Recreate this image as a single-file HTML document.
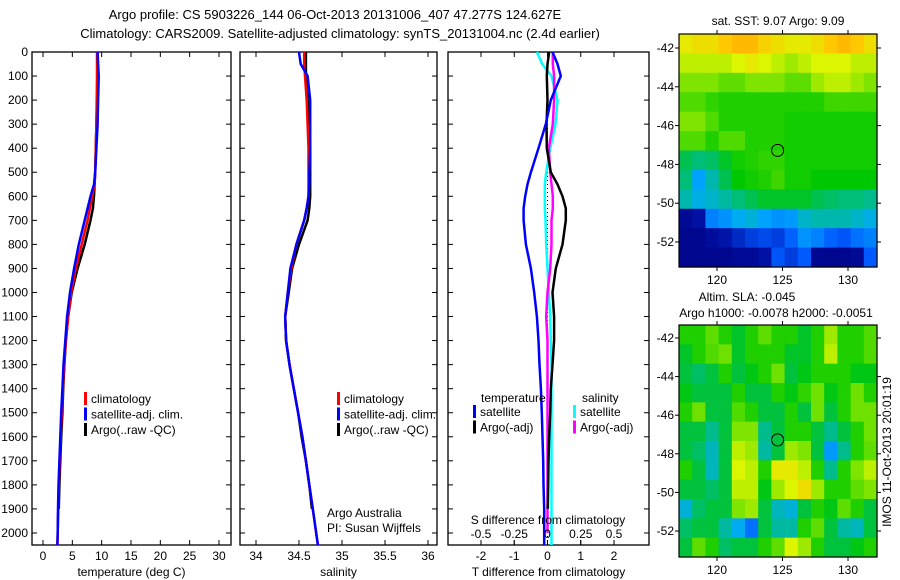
<!DOCTYPE html>
<html><head><meta charset="utf-8"><style>
body{margin:0;background:#fff}
svg{display:block;font-family:"Liberation Sans",sans-serif}
</style></head><body>
<svg id="fig" width="900" height="580" viewBox="0 0 900 580" xmlns="http://www.w3.org/2000/svg">
<rect width="900" height="580" fill="#fff"/>
<text x="335" y="19" font-size="13" text-anchor="middle">Argo profile: CS 5903226_144 06-Oct-2013 20131006_407 47.277S 124.627E</text>
<text x="340" y="38" font-size="13" text-anchor="middle">Climatology: CARS2009. Satellite-adjusted climatology: synTS_20131004.nc (2.4d earlier)</text>
<g id="g"></g>
</svg>
<script>
// ---- data ----
const depths = [0,50,100,200,300,400,500,550,600,650,700,800,900,1000,1100,1200,1300,1400,1500,1600,1700,1800,1900,2000,2050];
const tempClim = [9.2,9.2,9.2,9.15,9.1,9.0,8.9,8.8,8.4,8.0,7.6,6.6,5.6,4.8,4.3,3.9,3.6,3.4,3.2,3.0,2.85,2.7,2.6,2.5,2.45];
const tempSat  = [9.3,9.4,9.5,9.4,9.3,9.1,8.9,8.7,8.1,7.6,7.1,6.1,5.3,4.6,4.1,3.8,3.5,3.3,3.1,2.95,2.8,2.65,2.55,2.5,2.45];
const tempArgo = [9.25,9.3,9.3,9.2,9.1,9.0,8.9,8.8,8.7,8.5,8.1,7.1,5.9,4.9,4.3,3.9,3.65,3.45,3.3,3.1,2.95,2.8,2.7];
const salClim = [34.56,34.56,34.57,34.59,34.6,34.61,34.61,34.61,34.61,34.59,34.56,34.47,34.41,34.37,34.34,34.35,34.39,34.44,34.49,34.54,34.58,34.62,34.66,34.7,34.72];
const salSat  = [34.5,34.52,34.6,34.63,34.63,34.63,34.62,34.62,34.61,34.59,34.56,34.47,34.4,34.37,34.34,34.35,34.39,34.44,34.49,34.54,34.58,34.62,34.66,34.7,34.72];
const salArgo = [34.58,34.58,34.58,34.6,34.62,34.63,34.63,34.63,34.63,34.62,34.6,34.5,34.42,34.38,34.34,34.35,34.39,34.44,34.49,34.53,34.58,34.62,34.65];
const dTSat  = [0.15,0.3,0.4,0.1,-0.05,-0.27,-0.5,-0.6,-0.67,-0.72,-0.72,-0.65,-0.5,-0.4,-0.32,-0.27,-0.24,-0.2,-0.17,-0.15,-0.13,-0.12,-0.1,-0.1,-0.1];
const dTArgo = [0.05,0.0,-0.02,0.0,-0.03,-0.02,0.1,0.3,0.45,0.55,0.55,0.45,0.25,0.15,0.2,0.2,0.15,0.1,0.08,0.05,0.03,0.02,0.01];
const dSSat  = [-0.08,-0.04,0.03,0.075,0.06,0.02,-0.01,-0.02,-0.02,-0.02,-0.015,-0.01,0.0,0.01,0.02,0.025,0.03,0.03,0.03,0.03,0.03,0.03,0.03,0.03,0.03];
const dSArgo = [0.04,0.04,0.05,0.05,0.04,0.01,0.02,0.03,0.04,0.04,0.03,0.03,0.02,0.0,-0.01,0.0,0.0,0.0,0.0,0.0,0.0,0.0,0.0,0.0];
const depthTicks = [0,100,200,300,400,500,600,700,800,900,1000,1100,1200,1300,1400,1500,1600,1700,1800,1900,2000];
const tempTicks = [0,5,10,15,20,25,30];
const salTicks = [34,34.5,35,35.5,36];
const dTTicks = [-2,-1,0,1,2];
const dSTicks = [-0.5,-0.25,0,0.25,0.5];
const dSTickLabels = ["-0.5","-0.25","0","0.25","0.5"];
const lonTicks = [120,125,130];
const latTicks = [-42,-44,-46,-48,-50,-52];
const argoLon = 124.627, argoLat = -47.277;
const sstGrid = [
[.66,.68,.68,.72,.74,.74,.7,.68,.66,.66,.68,.72,.74,.72,.68],
[.62,.62,.62,.62,.64,.66,.64,.62,.6,.62,.64,.64,.64,.62,.62],
[.58,.58,.58,.56,.56,.58,.58,.58,.56,.56,.6,.62,.62,.6,.58],
[.55,.55,.53,.52,.52,.52,.52,.52,.52,.52,.52,.54,.54,.54,.54],
[.58,.58,.55,.52,.52,.52,.52,.52,.51,.51,.51,.51,.51,.51,.51],
[.55,.55,.52,.55,.55,.52,.52,.52,.51,.51,.51,.51,.51,.51,.51],
[.46,.44,.45,.48,.51,.52,.53,.53,.51,.51,.51,.51,.51,.51,.51],
[.44,.34,.41,.46,.5,.51,.52,.54,.51,.51,.5,.5,.5,.5,.5],
[.41,.37,.39,.42,.44,.46,.48,.48,.48,.48,.46,.45,.44,.44,.43],
[.06,.1,.3,.32,.36,.38,.34,.32,.33,.39,.41,.41,.41,.39,.37],
[.04,.04,.08,.12,.16,.2,.22,.2,.26,.32,.3,.26,.24,.28,.3],
[.04,.04,.04,.04,.06,.06,.1,.24,.2,.25,.05,.04,.04,.06,.25]];
const slaGrid = [
[.52,.52,.56,.52,.48,.52,.56,.52,.52,.48,.52,.6,.52,.52,.55],
[.48,.52,.55,.57,.48,.52,.52,.52,.48,.48,.52,.62,.52,.52,.55],
[.47,.45,.47,.52,.47,.49,.52,.57,.47,.49,.52,.52,.52,.49,.49],
[.49,.47,.47,.47,.52,.47,.47,.52,.49,.53,.57,.49,.52,.57,.52],
[.52,.57,.47,.47,.55,.52,.47,.47,.52,.47,.57,.47,.52,.57,.57],
[.47,.47,.43,.47,.58,.58,.43,.47,.52,.52,.47,.43,.47,.52,.57],
[.47,.45,.4,.47,.62,.6,.42,.47,.6,.58,.47,.33,.43,.52,.56],
[.52,.47,.4,.47,.64,.62,.52,.66,.66,.62,.52,.43,.52,.58,.62],
[.47,.47,.45,.47,.62,.62,.49,.6,.64,.68,.6,.52,.52,.56,.58],
[.38,.45,.47,.47,.58,.6,.47,.4,.38,.47,.52,.49,.56,.52,.47],
[.45,.47,.47,.42,.36,.28,.47,.42,.42,.52,.56,.47,.42,.4,.47],
[.47,.56,.52,.45,.47,.47,.52,.56,.64,.6,.52,.47,.47,.49,.52]];

// ---- drawing ----
const NS="http://www.w3.org/2000/svg";
const G=document.getElementById('g');
function mk(tag,attrs,parent){const e=document.createElementNS(NS,tag);for(const k in attrs)e.setAttribute(k,attrs[k]);(parent||G).appendChild(e);return e;}
function txt(s,x,y,anchor,size){const t=mk('text',{x:x,y:y,'font-size':size||12,'text-anchor':anchor||'start'});t.textContent=s;return t;}
const yTop=52,yBot=545,dMax=2050;
const yD=d=>yTop+d/dMax*(yBot-yTop);
function lin(d0,d1,p0,p1){return v=>p0+(v-d0)/(d1-d0)*(p1-p0);}

function panel(name,x0,x1,xs,ticks,labels,xlabel,showY){
  const f=mk('rect',{x:x0,y:yTop,width:x1-x0,height:yBot-yTop,fill:'none',stroke:'#000','stroke-width':1.3});
  
  
  depthTicks.forEach(d=>{
    mk('line',{x1:x0,x2:x0+5,y1:yD(d),y2:yD(d),stroke:'#000'});
    mk('line',{x1:x1,x2:x1-5,y1:yD(d),y2:yD(d),stroke:'#000'});
    if(showY){const t=txt(String(d),28,yD(d)+4,'end',12);
      
      }
  });
  ticks.forEach((v,i)=>{
    mk('line',{x1:xs(v),x2:xs(v),y1:yTop,y2:yTop+5,stroke:'#000'});
    mk('line',{x1:xs(v),x2:xs(v),y1:yBot,y2:yBot-5,stroke:'#000'});
    const t=txt(labels[i],xs(v),560,'middle',12);
    
    
  });
  const xl=txt(xlabel,(x0+x1)/2,576,'middle',12);
  
  
}
function profile(name,vals,xs,color,w){
  const pts=vals.map((v,i)=>xs(v).toFixed(1)+','+yD(depths[i]).toFixed(1)).join(' ');
  const p=mk('polyline',{points:pts,fill:'none',stroke:color,'stroke-width':w||2.5,'stroke-linejoin':'round'});
  
  
}
function legend(x,y,items,name){
  items.forEach((it,i)=>{
    const yy=y+i*15.5;
    mk('rect',{x:x,y:yy-11,width:3,height:13,fill:it[1]});
    const t=txt(it[0],x+7,yy,'start',12);
    
    
  });
}

// Panel 1 temperature
const xT=lin(0,30,43,219);
panel('temperature-panel',32,231,xT,tempTicks,tempTicks.map(String),'temperature (deg C)',true);
profile('temp-argo-line',tempArgo,xT,'#000');
profile('temp-clim-line',tempClim,xT,'#f00');
profile('temp-sat-line',tempSat,xT,'#00f');
legend(84,403,[['climatology','#f00'],['satellite-adj. clim.','#00f'],['Argo(..raw -QC)','#000']],'temp-legend');

// Panel 2 salinity
const xS=lin(34,36,256,428);
panel('salinity-panel',240,437,xS,salTicks,['34','34.5','35','35.5','36'],'salinity',false);
profile('sal-argo-line',salArgo,xS,'#000');
profile('sal-clim-line',salClim,xS,'#f00');
profile('sal-sat-line',salSat,xS,'#00f');
legend(337,403,[['climatology','#f00'],['satellite-adj. clim.','#00f'],['Argo(..raw -QC)','#000']],'sal-legend');
const aa=txt('Argo Australia',327,517,'start',12);


const pi=txt('PI: Susan Wijffels',327,532,'start',12);



// Panel 3 differences
const xdT=lin(-2,2,481,614);
const xdS=lin(-0.5,0.5,481,614);
panel('difference-panel',448,649,xdT,dTTicks,dTTicks.map(String),'T difference from climatology',false);
mk('line',{x1:xdT(0),x2:xdT(0),y1:yTop,y2:yBot,stroke:'#000','stroke-dasharray':'1 3'});
profile('dS-sat-line',dSSat,xdS,'#0ff');
profile('dS-argo-line',dSArgo,xdS,'#f0f');
profile('dT-argo-line',dTArgo,xdT,'#000');
profile('dT-sat-line',dTSat,xdT,'#00f');
dSTicks.forEach((v,i)=>{
  mk('line',{x1:xdS(v),x2:xdS(v),y1:yBot-5,y2:yBot,stroke:'#000'});
  const t=txt(dSTickLabels[i],xdS(v),538,'middle',12);
  
  
});
const sdl=txt('S difference from climatology',548,524,'middle',12);


const lt=txt('temperature',481,402,'start',12);


const ls=txt('salinity',582,402,'start',12);


legend(473,416,[['satellite','#00f'],['Argo(-adj)','#000']],'dT-legend');
legend(573,416,[['satellite','#0ff'],['Argo(-adj)','#f0f']],'dS-legend');

// Maps: piecewise colormap matching reference palette
const cmStops=[0,0.12,0.25,0.35,0.42,0.5,0.57,0.64,0.72,0.8];
const cmCols=[[0,0,128],[0,20,170],[0,90,255],[0,170,255],[0,185,160],[0,200,0],[110,225,0],[220,245,0],[255,200,0],[255,140,0]];
function cmap(v){v=Math.max(0,Math.min(0.8,v));
  let i=0;while(i<cmStops.length-2&&v>cmStops[i+1])i++;
  const t=(v-cmStops[i])/(cmStops[i+1]-cmStops[i]);
  const a=cmCols[i],b=cmCols[i+1];
  return 'rgb('+a.map((c,k)=>Math.round(c+(b[k]-c)*t)).join(',')+')';}
function map(name,grid,x0,x1,y0,y1,lat42y,lat52y){
  const lonX=lin(120,130,717,848);
  const latY=lin(-42,-52,lat42y,lat52y);
  const nr=grid.length,nc=grid[0].length;
  const cw=(x1-x0)/nc,ch=(y1-y0)/nr;
  const g=mk('g',{});
  
  
  grid.forEach((row,r)=>row.forEach((v,c)=>{
    const cell=mk('rect',{x:x0+c*cw,y:y0+r*ch,width:cw+0.6,height:ch+0.6,fill:cmap(v)},g);
    
    
  }));
  mk('rect',{x:x0,y:y0,width:x1-x0,height:y1-y0,fill:'none',stroke:'#000','stroke-width':1.2});
  lonTicks.forEach(l=>{
    mk('line',{x1:lonX(l),x2:lonX(l),y1:y0,y2:y0-4,stroke:'#000'});
    mk('line',{x1:lonX(l),x2:lonX(l),y1:y1,y2:y1+4,stroke:'#000'});
    const t=txt(String(l),lonX(l),y1+17,'middle',12);
    
    
  });
  latTicks.forEach(l=>{
    mk('line',{x1:x0,x2:x0-4,y1:latY(l),y2:latY(l),stroke:'#000'});
    mk('line',{x1:x1,x2:x1+4,y1:latY(l),y2:latY(l),stroke:'#000'});
    const t=txt(String(l),x0-5,latY(l)+4,'end',12);
    
    
  });
  const c=mk('circle',{cx:lonX(argoLon),cy:latY(argoLat),r:6,fill:'none',stroke:'#000','stroke-width':1});
  
  
}
map('sst-map',sstGrid,679,877,34,267,48,242);
map('sla-map',slaGrid,679,877,325,557,338,531);
const st=txt('sat. SST: 9.07 Argo: 9.09',778,25,'middle',12);


const a1=txt('Altim. SLA: -0.045',747,301,'middle',12);


const a2=txt('Argo h1000: -0.0078 h2000: -0.0051',776,317,'middle',12);


const im=mk('text',{x:0,y:0,'font-size':12,'text-anchor':'middle',transform:'translate(891,452) rotate(-90)'});
im.textContent='IMOS 11-Oct-2013 20:01:19';


</script>
</body></html>
